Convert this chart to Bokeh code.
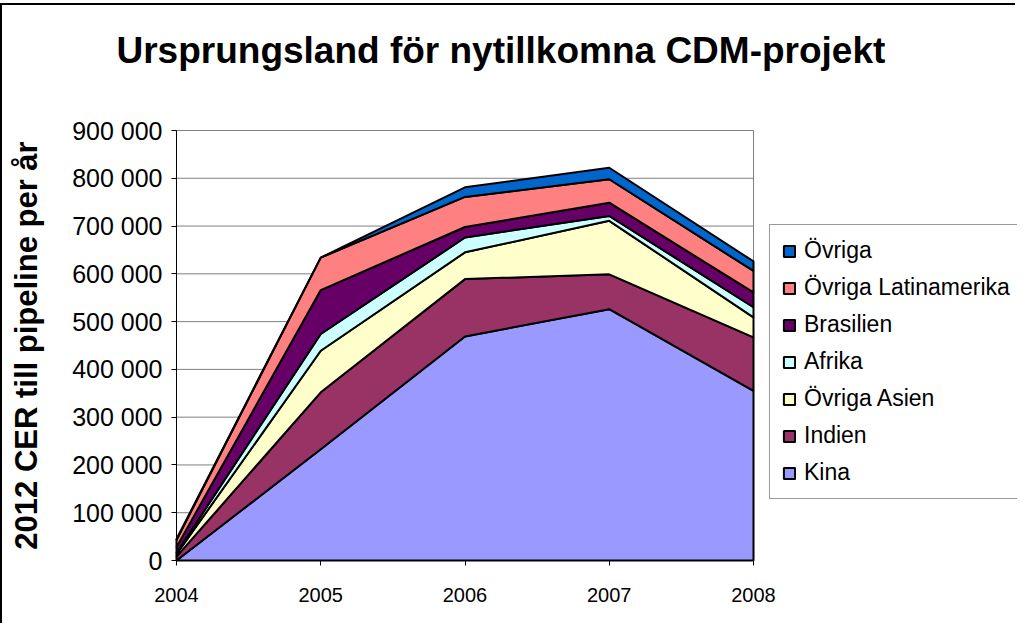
from bokeh.plotting import figure
from bokeh.models import FixedTicker, Legend, LegendItem, Range1d, Label
from bokeh.embed import file_html
from bokeh.resources import INLINE

years = [2004, 2005, 2006, 2007, 2008]
series_names = ["Kina", "Indien", "Övriga Asien", "Afrika", "Brasilien", "Övriga Latinamerika", "Övriga"]
kina = [0, 233000, 469000, 526000, 355000]
indien = [8000, 119000, 120000, 73000, 112000]
ovriga_asien = [5000, 87000, 56000, 112000, 42000]
afrika = [3000, 35000, 31000, 10000, 21000]
brasilien = [12000, 92000, 22000, 28000, 31000]
ovriga_latin = [15000, 68000, 63000, 49000, 45000]
ovriga = [2000, 0, 20000, 24000, 20000]
colors = ["#9999FF", "#993366", "#FFFFCC", "#CCFFFF", "#660066", "#FF8080", "#0066CC"]
y_ticks = [0, 100000, 200000, 300000, 400000, 500000, 600000, 700000, 800000, 900000]
y_tick_labels = ["0", "100 000", "200 000", "300 000", "400 000", "500 000", "600 000", "700 000", "800 000", "900 000"]
title_text = "Ursprungsland för nytillkomna CDM-projekt"
y_title = "2012 CER till pipeline per år"

FONT = "Liberation Sans"

# canvas geometry (pixels); the frame fills the whole canvas
W, H = 1015, 620
PLOT_L, PLOT_R = 174, 751      # canvas x of first / last year
PLOT_B, PLOT_T = 555, 125      # canvas y of 0 / top tick
yr_per_px = (years[-1] - years[0]) / (PLOT_R - PLOT_L)
val_per_px = y_ticks[-1] / (PLOT_B - PLOT_T)
x_start = years[0] - PLOT_L * yr_per_px
x_end = years[0] + (W - PLOT_L) * yr_per_px
y_start = -(H - PLOT_B) * val_per_px
y_end = y_ticks[-1] + PLOT_T * val_per_px

def sx(px):
    return x_start + px * yr_per_px

def sy(py):
    return (PLOT_B - py) * val_per_px

p = figure(width=W, height=H, output_backend="svg", toolbar_location=None,
           x_range=Range1d(x_start, x_end), y_range=Range1d(y_start, y_end),
           min_border=0)
p.styles = {"border-left": "2px solid black", "border-top": "2px solid black", "margin-top": "3px"}

# gridlines limited to the plot area, and its right border
p.segment(x0=years[0], x1=years[-1], y0=y_ticks[1:], y1=y_ticks[1:], line_color="#808080", line_width=1)
p.segment(x0=years[-1], x1=years[-1], y0=0, y1=y_ticks[-1], line_color="#808080", line_width=1)

all_series = [kina, indien, ovriga_asien, afrika, brasilien, ovriga_latin, ovriga]
bottom = [0] * len(years)
renderers = []
for name, vals, col in zip(series_names, all_series, colors):
    top = [b + v for b, v in zip(bottom, vals)]
    xs = years + years[::-1]
    ys = top + bottom[::-1]
    r = p.patch(xs, ys, fill_color=col, line_color="black", line_width=2)
    renderers.append((name, r))
    bottom = top

# axes, pinned at the plot-area edges
p.xaxis.fixed_location = 0
p.yaxis.fixed_location = years[0]
p.xaxis.ticker = FixedTicker(ticks=years)
p.xaxis.bounds = (years[0], years[-1])
p.yaxis.ticker = FixedTicker(ticks=y_ticks)
p.yaxis.bounds = (0, y_ticks[-1])
p.yaxis.major_label_overrides = {t: l for t, l in zip(y_ticks, y_tick_labels)}
for ax in (p.xaxis, p.yaxis):
    ax.axis_line_color = "black"
    ax.major_tick_line_color = "black"
    ax.major_tick_out = 5
    ax.major_tick_in = 0
    ax.minor_tick_line_color = None
    ax.major_label_text_font = FONT
    ax.major_label_text_color = "black"
p.xaxis.major_label_text_font_size = "20px"
p.yaxis.major_label_text_font_size = "25px"
p.xaxis.major_label_standoff = 22
p.yaxis.major_label_standoff = 9
p.yaxis.axis_label = y_title
p.yaxis.axis_label_text_font = FONT
p.yaxis.axis_label_text_font_size = "31px"
p.yaxis.axis_label_text_font_style = "bold"
p.yaxis.axis_label_text_color = "black"
p.yaxis.axis_label_standoff = 25

p.xgrid.grid_line_color = None
p.ygrid.grid_line_color = None
p.outline_line_color = None
p.background_fill_color = "white"
p.border_fill_color = "white"

title = Label(x=sx(114), y=sy(44.5), text=title_text,
              text_font=FONT, text_font_size="37px", text_font_style="bold",
              text_color="black", text_align="left", text_baseline="middle")
p.add_layout(title)

items = [LegendItem(label=n, renderers=[r]) for n, r in reversed(renderers)]
legend = Legend(items=items, location=(767, 126), orientation="vertical",
                label_text_font=FONT, label_text_font_size="23px", label_text_color="black",
                glyph_width=14, glyph_height=14, label_height=27, spacing=10,
                padding=12, margin=0, label_standoff=8,
                border_line_color="#333333", border_line_width=1,
                background_fill_color="white", background_fill_alpha=1)
p.add_layout(legend, "center")

open("out.html", "w").write(file_html(p, INLINE))
